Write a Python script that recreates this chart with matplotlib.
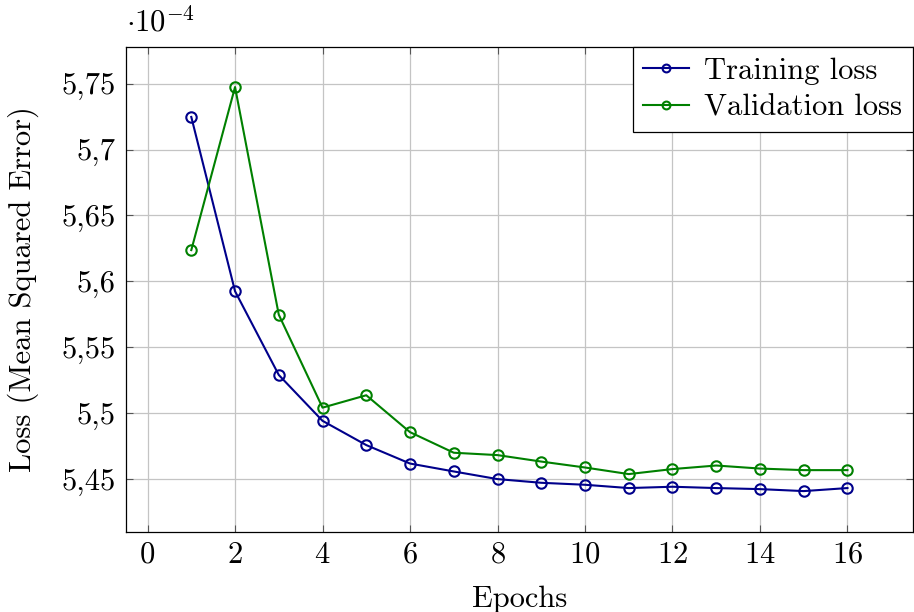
import matplotlib
matplotlib.use("Agg")
import matplotlib.pyplot as plt
from matplotlib.ticker import FuncFormatter, MultipleLocator

plt.rcParams["font.family"] = "serif"
plt.rcParams["font.serif"] = ["cmr10"]
plt.rcParams["mathtext.fontset"] = "cm"
plt.rcParams["axes.formatter.use_mathtext"] = True

# ================= DATA (units of 1e-4) =================
epochs = list(range(1, 17))
train_loss = [5.7247, 5.5925, 5.5290, 5.4942, 5.4758, 5.4618, 5.4558, 5.4500,
              5.4472, 5.4457, 5.4432, 5.4442, 5.4432, 5.4424, 5.4409, 5.4432]
val_loss = [5.6237, 5.7474, 5.5747, 5.5042, 5.5136, 5.4856, 5.4700, 5.4682,
            5.4633, 5.4588, 5.4538, 5.4576, 5.4603, 5.4580, 5.4568, 5.4568]

FS = 22

fig = plt.figure(figsize=(9.14, 6.12), dpi=100)
ax = fig.add_axes([0.1375, 0.131, 0.8615, 0.7927])

ax.plot(epochs, train_loss, color="#00008b", lw=1.5, marker="o", ms=7.5,
        mfc="none", mew=1.5, label="Training loss", zorder=3)
ax.plot(epochs, val_loss, color="#008000", lw=1.5, marker="o", ms=7.5,
        mfc="none", mew=1.5, label="Validation loss", zorder=3)

ax.set_xlim(-0.5, 17.5)
ax.set_ylim(5.410, 5.778)
ax.xaxis.set_major_locator(MultipleLocator(2))
ax.yaxis.set_major_locator(MultipleLocator(0.05))


def comma_fmt(v, pos):
    s = f"{v:.2f}".rstrip("0").rstrip(".")
    return s.replace(".", ",")


ax.yaxis.set_major_formatter(FuncFormatter(comma_fmt))

ax.grid(True, color="#c4c4c4", lw=0.9)
ax.set_axisbelow(True)
ax.tick_params(direction="in", length=5, width=0.8, color="#555555",
               top=True, right=True, labelsize=FS, pad=7)
for sp in ax.spines.values():
    sp.set_linewidth(0.9)

ax.set_xlabel("Epochs", fontsize=FS, labelpad=12)
ax.set_ylabel("Loss (Mean Squared Error)", fontsize=FS, labelpad=16)
ax.text(0.0, 1.02, r"$\cdot 10^{-4}$", transform=ax.transAxes,
        fontsize=FS, ha="left", va="bottom")

leg = ax.legend(loc="upper right", fontsize=FS, fancybox=False, framealpha=1,
                edgecolor="black", borderaxespad=0, handlelength=1.5,
                markerscale=0.75, borderpad=0.35, labelspacing=0.3,
                handletextpad=0.5)
leg.get_frame().set_linewidth(0.9)

fig.savefig("out.png", dpi=100)
